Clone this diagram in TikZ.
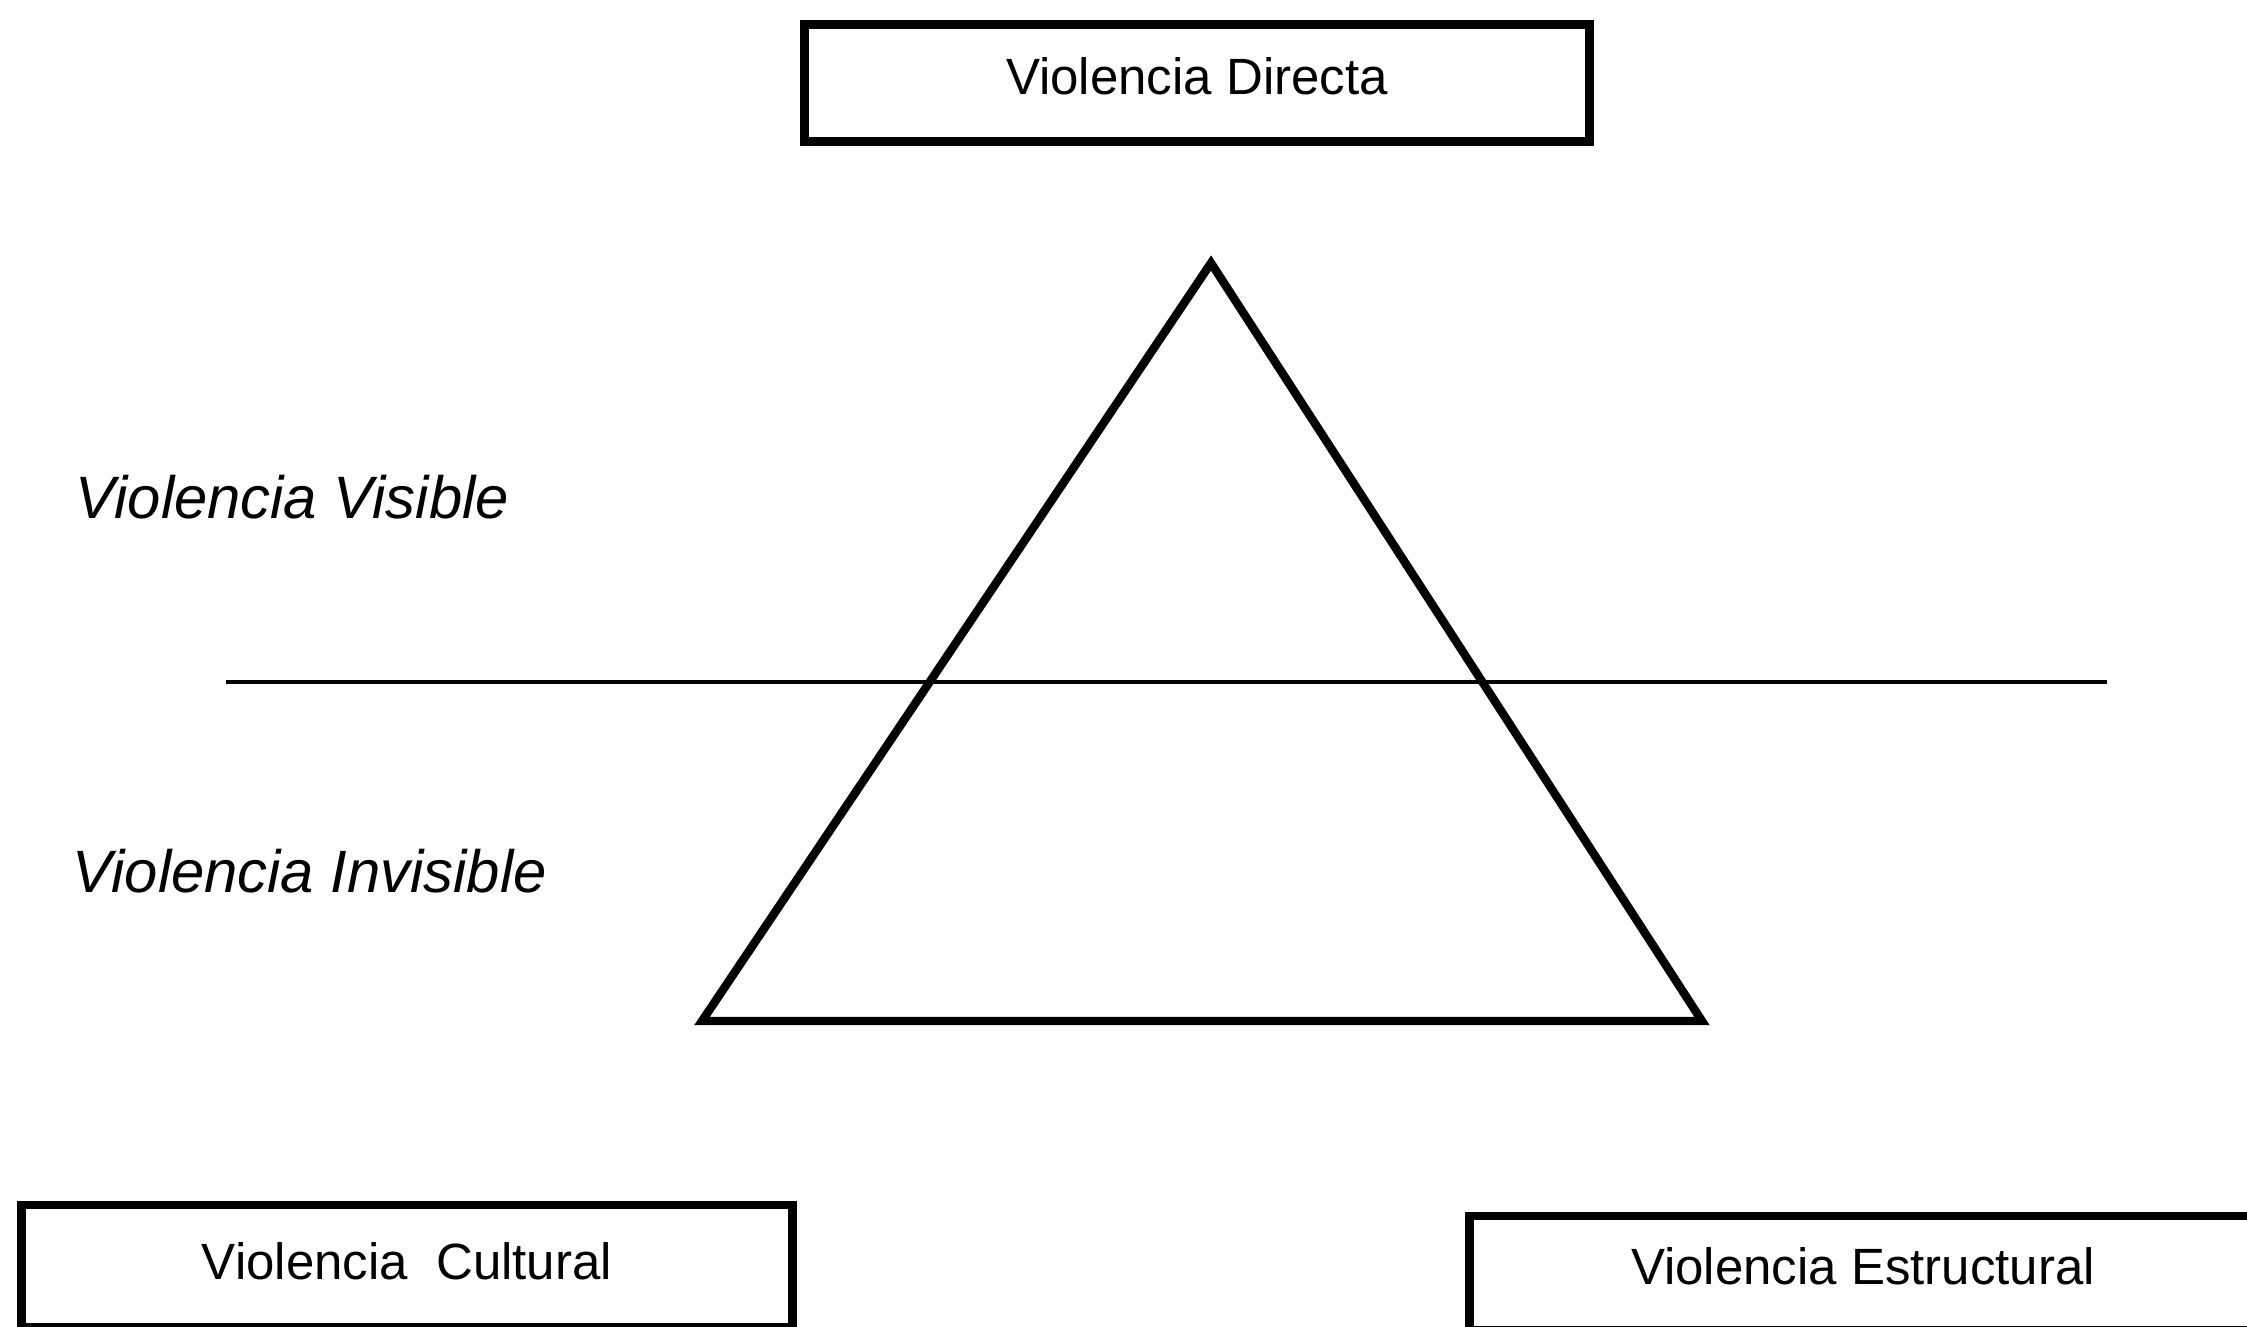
\documentclass[tikz,border=0pt]{standalone}
\usepackage{fontspec}
\setmainfont{Liberation Sans}
\tikzset{
  vbox/.style={draw, line width=2.5pt, inner sep=0pt,
    font=\fontsize{14.5}{17}\selectfont},
  vlabel/.style={anchor=west, inner sep=0pt,
    font=\fontsize{17}{20}\selectfont\itshape}
}
\begin{document}
\begin{tikzpicture}[x=0.01cm, y=-0.01cm]
\useasboundingbox (0,0) rectangle (2247,1326);
\clip (0,0) rectangle (2247,1326);

% boxes
\node[vbox, minimum width=7.85cm, minimum height=1.17cm, text depth=4pt]
  (directa) at (1197,83) {Violencia Directa};
\node[vbox, minimum width=7.7cm, minimum height=1.22cm, text depth=3pt]
  (cultural) at (407,1266) {Violencia\ \ Cultural};
\node[vbox, minimum width=7.86cm, minimum height=1.14cm, text depth=4pt]
  (estructural) at (1863,1273) {Violencia Estructural};

% side labels
\node[vlabel] (visible) at (75,497) {Violencia Visible};
\node[vlabel] (invisible) at (72,871) {Violencia Invisible};

% separator
\coordinate (sepL) at (226,682);
\coordinate (sepR) at (2107,682);
\draw[line width=0.9pt] (sepL) -- (sepR);

% triangle
\coordinate (apex) at (1211,263);
\coordinate (baseL) at (702,1021);
\coordinate (baseR) at (1702,1021);
\draw[line width=2.4pt] (apex) -- (baseR) -- (baseL) -- cycle;
\end{tikzpicture}
\end{document}
